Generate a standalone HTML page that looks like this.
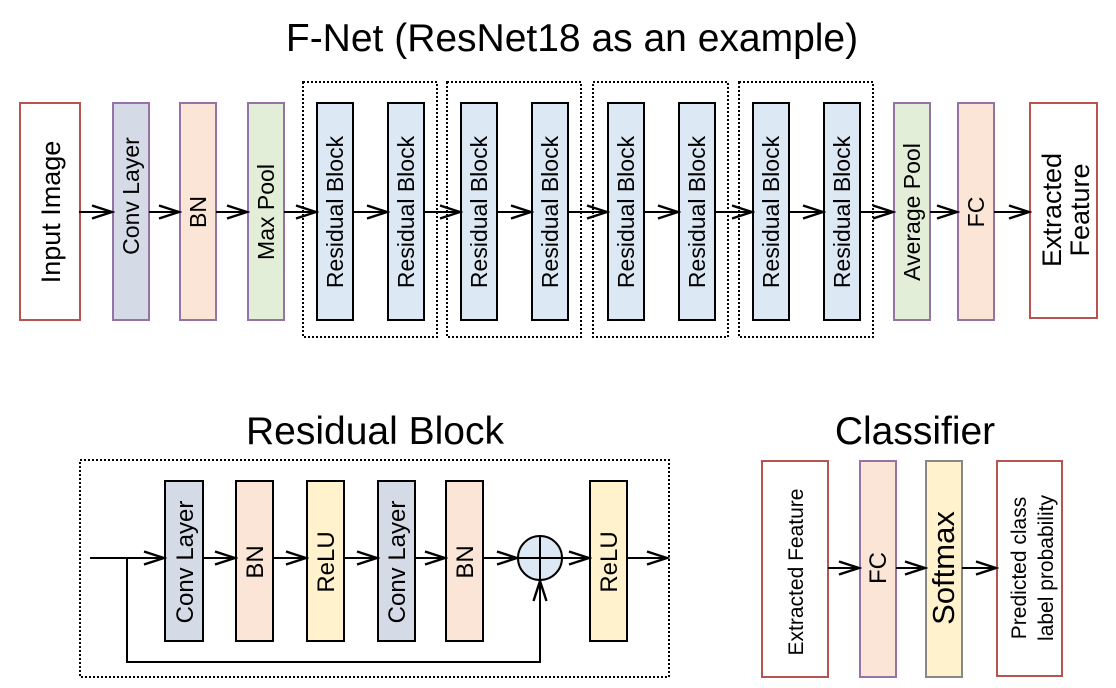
<!DOCTYPE html>
<html><head><meta charset="utf-8"><style>
html,body{margin:0;padding:0;background:#fff}
svg{display:block}
text{font-family:"Liberation Sans",Arial,sans-serif;fill:#000}
</style></head><body>
<svg width="1116" height="688" viewBox="0 0 1116 688" xmlns="http://www.w3.org/2000/svg">
<defs>
<marker id="a" markerWidth="24" markerHeight="16" refX="21" refY="8" orient="auto" markerUnits="userSpaceOnUse">
<polyline points="1,1.5 21,8 1,14.5" fill="none" stroke="#000" stroke-width="2.4"/>
</marker>
</defs>
<g text-anchor="middle">
<text x="572" y="51" font-size="39">F-Net (ResNet18 as an example)</text>
<text x="375" y="444" font-size="39">Residual Block</text>
<text x="915" y="444" font-size="39">Classifier</text>
</g>

<g fill="none" stroke="#000" stroke-width="2" stroke-dasharray="2,2">
<rect x="303" y="82" width="134" height="255"/>
<rect x="447" y="82" width="134" height="255"/>
<rect x="593" y="82" width="135" height="255"/>
<rect x="739" y="82" width="134" height="255"/>
<rect x="80" y="460" width="589" height="217"/>
</g>

<g stroke-width="2">
<rect x="20" y="103" width="60" height="217" fill="#fff" stroke="#b85450"/>
<rect x="113" y="103" width="36" height="217" fill="#d5dbe6" stroke="#9673a6"/>
<rect x="180" y="103" width="36" height="217" fill="#fae5d6" stroke="#9673a6"/>
<rect x="248" y="103" width="36" height="217" fill="#e2eed8" stroke="#9673a6"/>
<rect x="317" y="103" width="36" height="217" fill="#dde8f5" stroke="#000"/>
<rect x="388" y="103" width="36" height="217" fill="#dde8f5" stroke="#000"/>
<rect x="461" y="103" width="36" height="217" fill="#dde8f5" stroke="#000"/>
<rect x="532" y="103" width="36" height="217" fill="#dde8f5" stroke="#000"/>
<rect x="608" y="103" width="36" height="217" fill="#dde8f5" stroke="#000"/>
<rect x="679" y="103" width="36" height="217" fill="#dde8f5" stroke="#000"/>
<rect x="753" y="103" width="36" height="217" fill="#dde8f5" stroke="#000"/>
<rect x="824" y="103" width="36" height="217" fill="#dde8f5" stroke="#000"/>
<rect x="894" y="103" width="36" height="217" fill="#e2eed8" stroke="#9673a6"/>
<rect x="958" y="103" width="36" height="217" fill="#fae5d6" stroke="#9673a6"/>
<rect x="1030" y="103" width="67" height="215" fill="#fff" stroke="#b85450"/>
</g>
<g text-anchor="middle" font-size="23">
<text transform="translate(60,212) rotate(-90)" font-size="27">Input Image</text>
<text transform="translate(139,196) rotate(-90)">Conv Layer</text>
<text transform="translate(206,212) rotate(-90)">BN</text>
<text transform="translate(274,212) rotate(-90)">Max Pool</text>
<text transform="translate(343,212) rotate(-90)">Residual Block</text>
<text transform="translate(414,212) rotate(-90)">Residual Block</text>
<text transform="translate(487,212) rotate(-90)">Residual Block</text>
<text transform="translate(558,212) rotate(-90)">Residual Block</text>
<text transform="translate(634,212) rotate(-90)">Residual Block</text>
<text transform="translate(705,212) rotate(-90)">Residual Block</text>
<text transform="translate(779,212) rotate(-90)">Residual Block</text>
<text transform="translate(850,212) rotate(-90)">Residual Block</text>
<text transform="translate(920,212) rotate(-90)">Average Pool</text>
<text transform="translate(984,212) rotate(-90)">FC</text>
<text transform="translate(1061,210) rotate(-90)" font-size="27">Extracted</text>
<text transform="translate(1089,210) rotate(-90)" font-size="27">Feature</text>
</g>
<g stroke="#000" stroke-width="2" marker-end="url(#a)">
<line x1="79" y1="212" x2="112" y2="212"/>
<line x1="149" y1="212" x2="179" y2="212"/>
<line x1="216" y1="212" x2="247" y2="212"/>
<line x1="284" y1="212" x2="316" y2="212"/>
<line x1="353" y1="212" x2="387" y2="212"/>
<line x1="424" y1="212" x2="460" y2="212"/>
<line x1="497" y1="212" x2="531" y2="212"/>
<line x1="568" y1="212" x2="607" y2="212"/>
<line x1="644" y1="212" x2="678" y2="212"/>
<line x1="715" y1="212" x2="752" y2="212"/>
<line x1="789" y1="212" x2="823" y2="212"/>
<line x1="860" y1="212" x2="893" y2="212"/>
<line x1="930" y1="212" x2="957" y2="212"/>
<line x1="994" y1="212" x2="1029" y2="212"/>
</g>

<g stroke-width="2" stroke="#000">
<rect x="165" y="481" width="38" height="160" fill="#d5dbe6"/>
<rect x="236" y="481" width="37" height="160" fill="#fae5d6"/>
<rect x="307" y="481" width="37" height="160" fill="#fff2cc"/>
<rect x="378" y="481" width="37" height="160" fill="#d5dbe6"/>
<rect x="446" y="481" width="37" height="160" fill="#fae5d6"/>
<rect x="590" y="481" width="37" height="160" fill="#fff2cc"/>
<circle cx="540" cy="558" r="22" fill="#dde8f5"/>
<line x1="518" y1="558" x2="562" y2="558"/>
<line x1="540" y1="536" x2="540" y2="580"/>
</g>
<g text-anchor="middle" font-size="24">
<text transform="translate(193,562) rotate(-90)">Conv Layer</text>
<text transform="translate(263,562) rotate(-90)">BN</text>
<text transform="translate(334,562) rotate(-90)">ReLU</text>
<text transform="translate(405,562) rotate(-90)">Conv Layer</text>
<text transform="translate(473,562) rotate(-90)">BN</text>
<text transform="translate(617,562) rotate(-90)">ReLU</text>
</g>
<g stroke="#000" stroke-width="2" fill="none">
<line x1="90" y1="558" x2="164" y2="558" marker-end="url(#a)"/>
<line x1="203" y1="558" x2="235" y2="558" marker-end="url(#a)"/>
<line x1="273" y1="558" x2="306" y2="558" marker-end="url(#a)"/>
<line x1="344" y1="558" x2="377" y2="558" marker-end="url(#a)"/>
<line x1="415" y1="558" x2="445" y2="558" marker-end="url(#a)"/>
<line x1="483" y1="558" x2="517" y2="558" marker-end="url(#a)"/>
<line x1="562" y1="558" x2="589" y2="558" marker-end="url(#a)"/>
<line x1="627" y1="558" x2="667" y2="558" marker-end="url(#a)"/>
<polyline points="127,558 127,662 540,662 540,581" marker-end="url(#a)"/>
</g>

<g stroke-width="2">
<rect x="762" y="461" width="66" height="216" fill="#fff" stroke="#b85450"/>
<rect x="860" y="461" width="36" height="216" fill="#fae5d6" stroke="#9673a6"/>
<rect x="926" y="461" width="36" height="216" fill="#fff2cc" stroke="#888"/>
<rect x="997" y="461" width="65" height="215" fill="#fff" stroke="#b85450"/>
</g>
<g text-anchor="middle" font-size="21">
<text transform="translate(803,572) rotate(-90)">Extracted Feature</text>
<text transform="translate(886,568) rotate(-90)" font-size="24">FC</text>
<text transform="translate(954,568) rotate(-90)" font-size="31">Softmax</text>
<text transform="translate(1026,568) rotate(-90)">Predicted class</text>
<text transform="translate(1053,568) rotate(-90)">label probability</text>
</g>
<g stroke="#000" stroke-width="2" marker-end="url(#a)">
<line x1="828" y1="568" x2="859" y2="568"/>
<line x1="896" y1="568" x2="925" y2="568"/>
<line x1="962" y1="568" x2="996" y2="568"/>
</g>
</svg>
</body></html>
